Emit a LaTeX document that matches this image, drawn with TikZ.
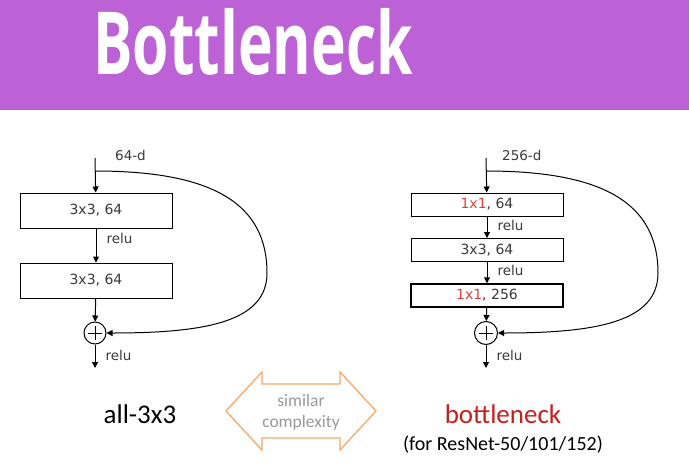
\documentclass[tikz,border=0pt]{standalone}
\usepackage{fontspec}
\usepackage{graphicx}
\setmainfont{DejaVu Sans}
\newfontfamily\calibrifont{Carlito}
\newfontfamily\titlefont{Open Sans}
\definecolor{bannerpurple}{HTML}{BD62D6}
\definecolor{labelgray}{HTML}{3A3A3A}
\definecolor{kernelred}{HTML}{E0403A}
\definecolor{neckred}{HTML}{C81E1E}
\definecolor{arroworange}{HTML}{F7A862}
\definecolor{notegray}{HTML}{999999}
\usetikzlibrary{arrows.meta,positioning}

\begin{document}
\begin{tikzpicture}[x=1pt,y=-1pt]
        \tikzset{
            convbox/.style={
                draw=black,
                fill=white,
                line width=1pt,
                minimum width=152pt,
                text=labelgray,
                font=\fontsize{14}{16}\selectfont,
                inner sep=0pt
            },
            convboxtall/.style={
                convbox,
                minimum height=35pt
            },
            convboxflat/.style={
                convbox,
                minimum height=23pt
            },
            sumnode/.style={
                draw=black,
                circle,
                line width=1pt,
                minimum size=22pt,
                inner sep=0pt,
                path picture={
                    \draw[line width=0.9pt]
                        ([xshift=-7pt]path picture bounding box.center) --
                        ([xshift=7pt]path picture bounding box.center);
                    \draw[line width=0.9pt]
                        ([yshift=-7pt]path picture bounding box.center) --
                        ([yshift=7pt]path picture bounding box.center);
                }
            },
            flow/.style={
                -{Triangle[length=6pt,width=6pt]},
                draw=black,
                line width=1pt
            },
            relulbl/.style={
                text=labelgray,
                font=\fontsize{13.5}{16}\selectfont,
                inner sep=0pt
            },
            dimlbl/.style={
                text=labelgray,
                font=\fontsize{13.5}{15}\selectfont,
                inner sep=0pt,
                anchor=west
            },
            caption/.style={
                font=\calibrifont\fontsize{27}{30}\selectfont,
                inner sep=0pt
            }
        }

        \useasboundingbox (0,0) rectangle (689,472);
        \fill[bannerpurple] (0,0) rectangle (689,110);
        \node[text=white, anchor=base, inner sep=0pt] (title) at (253,74)
            {\scalebox{0.675}[1]{\titlefont\bfseries\fontsize{87}{87}\selectfont Bottleneck}};

        % plain block
        \coordinate (lin) at (95,158);
        \coordinate (lsplit) at (95,171);
        \coordinate (lbend) at (267,273);
        \coordinate (lout) at (95,368);
        \node[dimlbl] (ldim) at (115,155) {64-d};
        \node[convboxtall] (lconvA) at (96,210.5) {3x3, 64};
        \node[convboxtall] (lconvB) at (96,280.5) {3x3, 64};
        \node[sumnode] (lsum) at (95,333) {};

        \draw[flow] (lin) -- (lconvA);
        \draw[flow] (lconvA) -- node[relulbl, right=10pt, pos=0.3]{relu} (lconvB);
        \draw[flow] (lconvB) -- (lsum);
        \draw[flow] (lsum) -- node[relulbl, right=10pt, pos=0.45]{relu} (lout);
        \draw[flow] (lsplit) .. controls (215,171) and (267,205) .. (lbend)
            .. controls (267,322) and (205,333) .. (lsum.east);

        % bottleneck block
        \coordinate (rin) at (486,158);
        \coordinate (rsplit) at (486,171);
        \coordinate (rbend) at (658,273);
        \coordinate (rout) at (486,368);
        \node[dimlbl] (rdim) at (502,155) {256-d};
        \node[convboxflat] (rconvA) at (487,204.5)
            {\textcolor{kernelred}{1x1}, 64};
        \node[convboxflat] (rconvB) at (487,250) {3x3, 64};
        \node[convboxflat, line width=1.5pt] (rconvC) at (487,295.5)
            {\textcolor{kernelred}{1x1}, 256};
        \node[sumnode, minimum size=23pt] (rsum) at (486,333) {};

        \draw[flow] (rin) -- (rconvA);
        \draw[flow] (rconvA) -- node[relulbl, right=10pt, pos=0.4]{relu} (rconvB);
        \draw[flow] (rconvB) -- node[relulbl, right=10pt, pos=0.4]{relu} (rconvC);
        \draw[flow] (rconvC) -- (rsum);
        \draw[flow] (rsum) -- node[relulbl, right=10pt, pos=0.45]{relu} (rout);
        \draw[flow] (rsplit) .. controls (606,171) and (658,205) .. (rbend)
            .. controls (658,322) and (596,333) .. (rsum.east);

        % captions
        \node[caption] (plaincap) at (140,414) {all-3x3};
        \node[caption, text=neckred] (neckcap) at (503,414) {bottleneck};
        \node[caption, font=\calibrifont\fontsize{20}{22}\selectfont,
            below=12pt of neckcap] (netcap) {(for ResNet-50/101/152)};

        \draw[arroworange, line width=1.3pt, line join=miter]
            (226,411) -- (262,372) -- (262,384) -- (340,384) -- (340,372)
            -- (376,411) -- (340,450) -- (340,438) -- (262,438) -- (262,450)
            -- cycle;
        \node[text=notegray, font=\calibrifont\fontsize{17.5}{21}\selectfont,
            align=center, inner sep=0pt] (simnote) at (301,412)
            {similar\\complexity};
    \end{tikzpicture}
\end{document}
